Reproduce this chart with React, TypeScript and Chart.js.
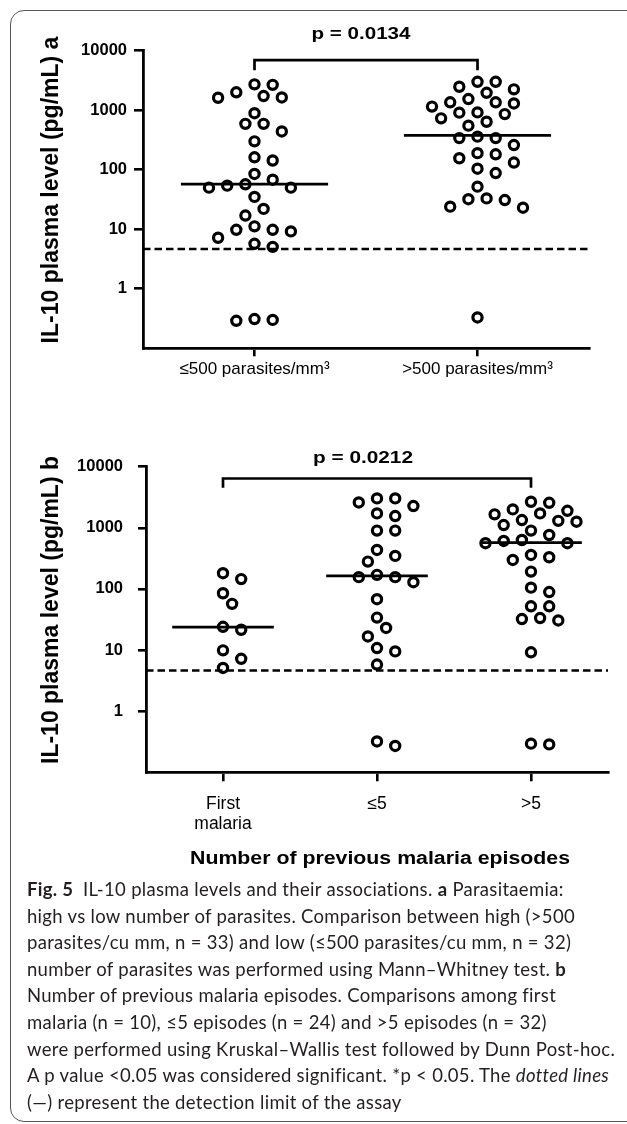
import React, { useEffect, useRef } from 'react';
import { Chart, registerables } from 'chart.js';

Chart.register(...registerables);

// ---------- data ----------
const panelACategories = ['≤500 parasites/mm³', '>500 parasites/mm³'];
const aLowParasites = [2670, 2720, 1730, 1620, 2000, 1640, 890, 590, 590, 440, 300, 162, 143, 68, 85, 54, 50, 50, 57, 35, 22, 17, 9.8, 9.2, 11.2, 9.8, 7.2, 5.7, 5.05, 0.31, 0.29, 0.3];
const aHighParasites = [3000, 2480, 2240, 3000, 1960, 1540, 1360, 1150, 1300, 1360, 920, 860, 640, 730, 910, 550, 340, 260, 340, 360, 182, 132, 156, 190, 104, 88, 52, 32, 24, 23, 31, 33, 0.33];
const panelAMedians = [57.5, 377];
const panelAPValue = 'p = 0.0134';
const panelABracket = [4710, 6930]; // foot, top (pg/mL)

const panelBCategories = [['First', 'malaria'], ['≤5'], ['>5']];
const bFirstMalaria = [181, 145, 85, 57, 24, 21.5, 9.9, 7.2, 5.1];
const bUpTo5 = [3030, 2600, 2270, 3030, 1560, 1720, 900, 900, 347, 434, 280, 156, 129, 156, 170, 68, 34, 23, 16.7, 9.5, 10.8, 5.8, 0.27, 0.32];
const bOver5 = [2670, 2570, 1900, 1660, 1300, 1110, 1260, 1340, 1720, 2000, 900, 632, 560, 560, 610, 763, 330, 298, 360, 192, 105, 89, 52, 52, 33.4, 30.5, 32.2, 9.2, 0.286, 0.294];
const panelBMedians = [23.8, 164, 571];
const panelBPValue = 'p = 0.0212';
const panelBBracket = [4510, 6415];

const yTickValues = [1, 10, 100, 1000, 10000];
const yMin = 0.1;
const yMax = 10000;
const detectionLimit = 4.65;
const yTitleA = 'IL-10 plasma level (pg/mL) a';
const yTitleB = 'IL-10 plasma level (pg/mL) b';
const xTitleB = 'Number of previous malaria episodes';

// ---------- helpers ----------
const FONT = '"Liberation Sans", Arial, Helvetica, sans-serif';

function swarmOffsets(values: number[], yPix: (v: number) => number, step: number, minDist: number): number[] {
  const order = values.map((_, i) => i).sort((a, b) => values[b] - values[a]);
  const placed: { x: number; y: number }[] = [];
  const out = new Array(values.length).fill(0);
  for (const i of order) {
    const y = yPix(values[i]);
    for (let k = 0; k < 60; k++) {
      const m = k === 0 ? 0 : k % 2 === 1 ? (k + 1) / 2 : -k / 2;
      const x = m * step;
      if (placed.every((p) => Math.hypot(p.x - x, p.y - y) >= minDist)) {
        placed.push({ x, y });
        out[i] = x;
        break;
      }
    }
  }
  return out;
}

type TextItem = {
  text: string;
  x: number;
  y: number;
  font: string;
  rotate?: boolean;
  width?: number;
};

function drawText(ctx: CanvasRenderingContext2D, t: TextItem) {
  ctx.save();
  ctx.font = t.font;
  ctx.fillStyle = '#000';
  ctx.textAlign = 'center';
  ctx.textBaseline = 'alphabetic';
  ctx.translate(t.x, t.y);
  if (t.rotate) ctx.rotate(-Math.PI / 2);
  if (t.width) {
    const w = ctx.measureText(t.text).width;
    ctx.scale(t.width / w, 1);
  }
  ctx.fillText(t.text, 0, 0);
  ctx.restore();
}

type PanelSpec = {
  groups: number[][];
  categories: (string | string[])[];
  medians: number[];
  bracket: number[];
  padding: { left: number; right: number; top: number; bottom: number };
  yWidth: number;
  xHeight: number;
  yTickLength: number;
  yTickPadding: number;
  xTickLength: number;
  xTickPadding: number;
  xFontSize: number;
  texts: TextItem[];
};

function buildChart(canvas: HTMLCanvasElement, spec: PanelSpec) {
  const n = spec.categories.length;
  const pointSets = spec.groups.map((vals, g) => ({
    data: vals.map((v) => ({ x: g + 0.5, y: v })),
    showLine: false,
    pointRadius: 4.6,
    pointHoverRadius: 4.6,
    pointBorderWidth: 3.2,
    pointBorderColor: '#000',
    pointBackgroundColor: 'rgba(0,0,0,0)',
  }));
  const lineStyle = { showLine: true, pointRadius: 0, pointHoverRadius: 0, borderColor: '#000', fill: false };
  const medianSets = spec.medians.map((m, g) => ({
    ...lineStyle,
    borderWidth: 2.8,
    data: [
      { x: g + 0.5 - 0.33, y: m },
      { x: g + 0.5 + 0.33, y: m },
    ],
  }));
  const dashed = {
    ...lineStyle,
    borderWidth: 2.5,
    borderDash: [7.5, 4],
    data: [
      { x: 0, y: detectionLimit },
      { x: n, y: detectionLimit },
    ],
  };
  const bracket = {
    ...lineStyle,
    borderWidth: 2.7,
    data: [
      { x: 0.5, y: spec.bracket[0] },
      { x: 0.5, y: spec.bracket[1] },
      { x: n - 0.5, y: spec.bracket[1] },
      { x: n - 0.5, y: spec.bracket[0] },
    ],
  };

  const textPlugin = {
    id: 'panelTexts',
    afterDraw(chart: any) {
      spec.texts.forEach((t) => drawText(chart.ctx, t));
    },
  };

  const zeroPad = (s: any) => {
    s.paddingTop = 0;
    s.paddingBottom = 0;
    s.paddingLeft = 0;
    s.paddingRight = 0;
  };

  const chart = new Chart(canvas, {
    type: 'scatter',
    data: { datasets: [...medianSets, dashed, bracket, ...pointSets] as any },
    options: {
      animation: false,
      responsive: false,
      devicePixelRatio: 1,
      events: [],
      layout: { padding: spec.padding },
      plugins: { legend: { display: false }, tooltip: { enabled: false } },
      scales: {
        x: {
          type: 'linear',
          min: 0,
          max: n,
          afterBuildTicks: (s: any) => {
            s.ticks = spec.categories.map((_, i) => ({ value: i + 0.5 }));
          },
          afterFit: (s: any) => {
            s.height = spec.xHeight;
            zeroPad(s);
          },
          grid: { drawOnChartArea: false, drawTicks: true, tickLength: spec.xTickLength, color: '#000', lineWidth: 2.6 },
          border: { display: true, color: '#000', width: 2.8 },
          ticks: {
            autoSkip: false,
            maxRotation: 0,
            minRotation: 0,
            padding: spec.xTickPadding,
            color: '#000',
            font: { family: FONT, size: spec.xFontSize, lineHeight: 1.15 },
            callback: (_v: any, i: number) => spec.categories[i] as any,
          },
        },
        y: {
          type: 'logarithmic',
          min: yMin,
          max: yMax,
          afterBuildTicks: (s: any) => {
            s.ticks = yTickValues.map((v) => ({ value: v }));
          },
          afterFit: (s: any) => {
            s.width = spec.yWidth;
            zeroPad(s);
          },
          grid: { drawOnChartArea: false, drawTicks: true, tickLength: spec.yTickLength, color: '#000', lineWidth: 2.6 },
          border: { display: true, color: '#000', width: 2.8 },
          ticks: {
            autoSkip: false,
            padding: spec.yTickPadding,
            color: '#000',
            font: { family: FONT, size: 16.5, weight: 'bold' },
            callback: (v: any) => String(v),
          },
        },
      },
    } as any,
    plugins: [textPlugin],
  });

  const xs: any = chart.scales.x;
  const ys: any = chart.scales.y;
  const pxPerUnit = xs.getPixelForValue(1) - xs.getPixelForValue(0);
  const base = medianSets.length + 2;
  spec.groups.forEach((vals, g) => {
    const offs = swarmOffsets(vals, (v) => ys.getPixelForValue(v), 9.1, 13);
    (chart.data.datasets[base + g] as any).data = vals.map((v, i) => ({ x: g + 0.5 + offs[i] / pxPerUnit, y: v }));
  });
  chart.update('none');
  return chart;
}

const captionStyle: React.CSSProperties = {
  position: 'absolute',
  left: 27,
  top: 876,
  fontFamily: 'Lato, "Open Sans", sans-serif',
  fontSize: 18.5,
  letterSpacing: '0.3px',
  lineHeight: '26.6px',
  color: '#231f20',
  whiteSpace: 'nowrap',
};

export default function App() {
  const refA = useRef<HTMLCanvasElement>(null);
  const refB = useRef<HTMLCanvasElement>(null);

  useEffect(() => {
    const chartA = buildChart(refA.current!, {
      groups: [aLowParasites, aHighParasites],
      categories: panelACategories,
      medians: panelAMedians,
      bracket: panelABracket,
      padding: { left: 53, right: 38, top: 50.7, bottom: 6.7 },
      yWidth: 90,
      xHeight: 45,
      yTickLength: 9,
      yTickPadding: 7,
      xTickLength: 8,
      xTickPadding: 3,
      xFontSize: 17,
      texts: [
        { text: yTitleA, x: 58, y: 190, font: `bold 23px ${FONT}`, rotate: true },
        { text: panelAPValue, x: 361, y: 38.7, font: `bold 17px ${FONT}`, width: 99 },
      ],
    });
    const chartB = buildChart(refB.current!, {
      groups: [bFirstMalaria, bUpTo5, bOver5],
      categories: panelBCategories,
      medians: panelBMedians,
      bracket: panelBBracket,
      padding: { left: 46, right: 19, top: 66.7, bottom: 47.7 },
      yWidth: 100,
      xHeight: 60,
      yTickLength: 8,
      yTickPadding: 15,
      xTickLength: 9,
      xTickPadding: 12.5,
      xFontSize: 17.5,
      texts: [
        { text: yTitleB, x: 58, y: 210, font: `bold 23px ${FONT}`, rotate: true },
        { text: panelBPValue, x: 363, y: 62.7, font: `bold 17px ${FONT}`, width: 100 },
        { text: xTitleB, x: 380, y: 464.4, font: `bold 18px ${FONT}`, width: 380 },
      ],
    });
    return () => {
      chartA.destroy();
      chartB.destroy();
    };
  }, []);

  return (
    <div style={{ position: 'absolute', left: 0, top: 0, width: 627, height: 1124, overflow: 'hidden', background: '#fff' }}>
      <div
        style={{
          position: 'absolute',
          left: 10,
          top: 9.5,
          width: 680,
          height: 1112,
          border: '1.3px solid #555',
          borderRadius: 14,
          boxSizing: 'border-box',
        }}
      />
      <canvas ref={refA} width={627} height={400} style={{ position: 'absolute', left: 0, top: 0, width: 627, height: 400 }} />
      <canvas ref={refB} width={627} height={480} style={{ position: 'absolute', left: 0, top: 400, width: 627, height: 480 }} />
      <div style={captionStyle}>
        <div>
          <b>Fig. 5</b>{'\u2002'}IL-10 plasma levels and their associations. <b>a</b> Parasitaemia:
        </div>
        <div>high vs low number of parasites. Comparison between high (&gt;500</div>
        <div>parasites/cu mm, n = 33) and low (≤500 parasites/cu mm, n = 32)</div>
        <div>
          number of parasites was performed using Mann–Whitney test. <b>b</b>
        </div>
        <div>Number of previous malaria episodes. Comparisons among first</div>
        <div>malaria (n = 10), ≤5 episodes (n = 24) and &gt;5 episodes (n = 32)</div>
        <div>were performed using Kruskal–Wallis test followed by Dunn Post-hoc.</div>
        <div>
          A p value &lt;0.05 was considered significant. *p &lt; 0.05. The <i>dotted lines</i>
        </div>
        <div>(—) represent the detection limit of the assay</div>
      </div>
    </div>
  );
}
